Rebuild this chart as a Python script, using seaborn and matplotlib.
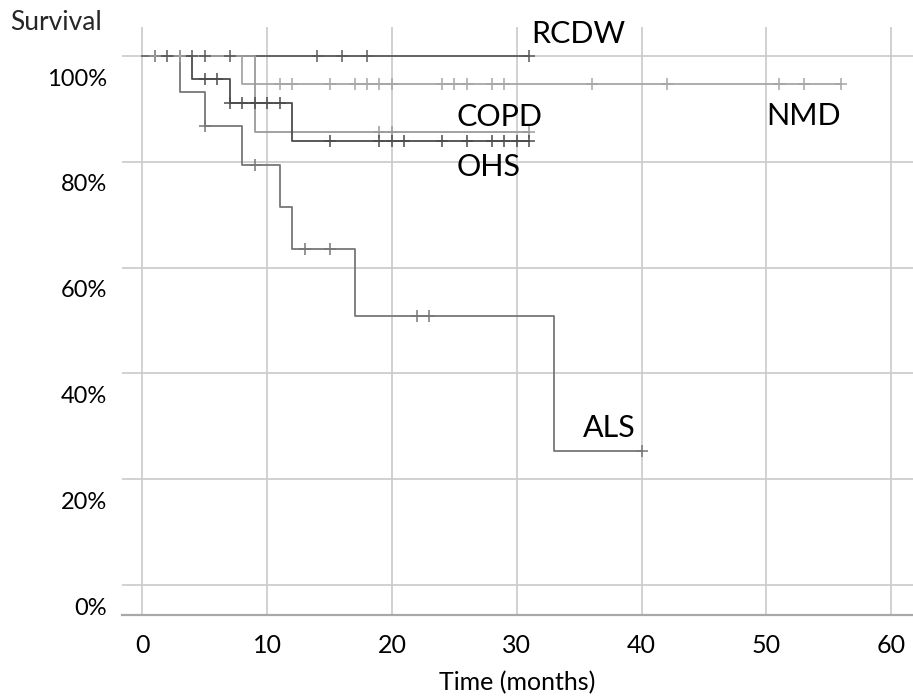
import numpy as np
import pandas as pd
import seaborn as sns
import matplotlib
matplotlib.use('Agg')
import matplotlib.pyplot as plt
from matplotlib.transforms import ScaledTranslation

# 各组生存曲线（时间, 生存率）
groups = ['RCDW', 'NMD', 'COPD', 'OHS', 'ALS']

rcdw_t = [0, 31]
rcdw_s = [1.0, 1.0]
rcdw_cens = [1, 2, 3, 4, 5, 7, 14, 16, 18, 31]

nmd_t = [0, 8, 56]
nmd_s = [1.0, 0.947, 0.947]
nmd_cens = [3, 11, 12, 15, 17, 18, 19, 20, 24, 25, 26, 28, 29, 36, 42, 51, 53, 56]

copd_t = [0, 9, 31]
copd_s = [1.0, 0.857, 0.857]
copd_cens = [1, 19, 20, 31]

ohs_t = [0, 4, 7, 12, 31]
ohs_s = [1.0, 0.957, 0.911, 0.839, 0.839]
ohs_cens = [5, 6, 7, 8, 9, 10, 11, 15, 19, 20, 21, 24, 26, 28, 29, 30, 31]

als_t = [0, 3, 5, 8, 11, 12, 17, 33, 40]
als_s = [1.0, 0.933, 0.867, 0.794, 0.715, 0.636, 0.508, 0.254, 0.254]
als_cens = [5, 9, 13, 15, 22, 23, 40]

# 标签位置 (时间, 生存率)
label_pos = {'RCDW': (31.2, 1.024), 'NMD': (50.0, 0.870), 'COPD': (25.2, 0.868),
             'OHS': (25.2, 0.774), 'ALS': (35.3, 0.280)}

colors = {'RCDW': '#5a5a5a', 'NMD': '#a6a6a6', 'COPD': '#9a9a9a',
          'OHS': '#4c4c4c', 'ALS': '#777777'}

curves = {'RCDW': (rcdw_t, rcdw_s, rcdw_cens), 'NMD': (nmd_t, nmd_s, nmd_cens),
          'COPD': (copd_t, copd_s, copd_cens), 'OHS': (ohs_t, ohs_s, ohs_cens),
          'ALS': (als_t, als_s, als_cens)}


def surv_at(ts, ss, t):
    i = np.searchsorted(ts, t, side='right') - 1
    return ss[i]


rows, crows = [], []
for g, (ts, ss, cs) in curves.items():
    for t, s in zip(ts, ss):
        rows.append((g, t, s))
    for c in cs:
        crows.append((g, c, surv_at(ts, ss, c)))
df = pd.DataFrame(rows, columns=['group', 'time', 'surv'])
cdf = pd.DataFrame(crows, columns=['group', 'time', 'surv'])

sns.set_theme(style='white')
plt.rcParams['font.family'] = ['Lato', 'DejaVu Sans']

fig = plt.figure(figsize=(9.13, 6.99), dpi=100)
ax = fig.add_axes([122 / 913, 1 - 615 / 699, 1 - 122 / 913, (615 - 27) / 699])

# 网格
for x in range(0, 61, 10):
    ax.axvline(x, color='#cacaca', lw=1.2, zorder=0)
for y in np.arange(0, 1.01, 0.2):
    ax.axhline(y, color='#cacaca', lw=1.2, zorder=0)

sns.lineplot(data=df, x='time', y='surv', hue='group', hue_order=groups,
             palette=colors, estimator=None, sort=False, drawstyle='steps-post',
             linewidth=1.3, legend=False, ax=ax, zorder=2)
for g in groups:
    sub = cdf[cdf['group'] == g]
    ax.plot(sub['time'], sub['surv'], linestyle='none', marker='+',
            markersize=8, markeredgewidth=1.1, color=colors[g], zorder=3)

for g, (tx, ty) in label_pos.items():
    ax.text(tx, ty, g, fontsize=22, ha='left', va='baseline', color='black')

ax.set_xlim(-1.63, 61.75)
ax.set_ylim(-0.0567, 1.055)
ax.set_xticks(range(0, 61, 10))
ax.set_yticks(np.arange(0, 1.01, 0.2))
ax.set_yticklabels([f'{int(round(v * 100))}%' for v in np.arange(0, 1.01, 0.2)])
ax.tick_params(axis='x', labelsize=18, pad=14, length=0, colors='black')
ax.tick_params(axis='y', labelsize=17, pad=11, length=0, colors='black')
off = ScaledTranslation(0, -0.21, fig.dpi_scale_trans)
for lab in ax.get_yticklabels():
    lab.set_transform(lab.get_transform() + off)

for sp in ['top', 'right', 'left']:
    ax.spines[sp].set_visible(False)
ax.spines['bottom'].set_color('#a8a8a8')
ax.spines['bottom'].set_linewidth(1.6)

ax.set_xlabel('Time (months)', fontsize=18, labelpad=10, color='black')
ax.set_ylabel('')
fig.text(10 / 913, 1 - 23 / 699, 'Survival', fontsize=19, ha='left', va='center')

fig.savefig('out.png', dpi=100)
